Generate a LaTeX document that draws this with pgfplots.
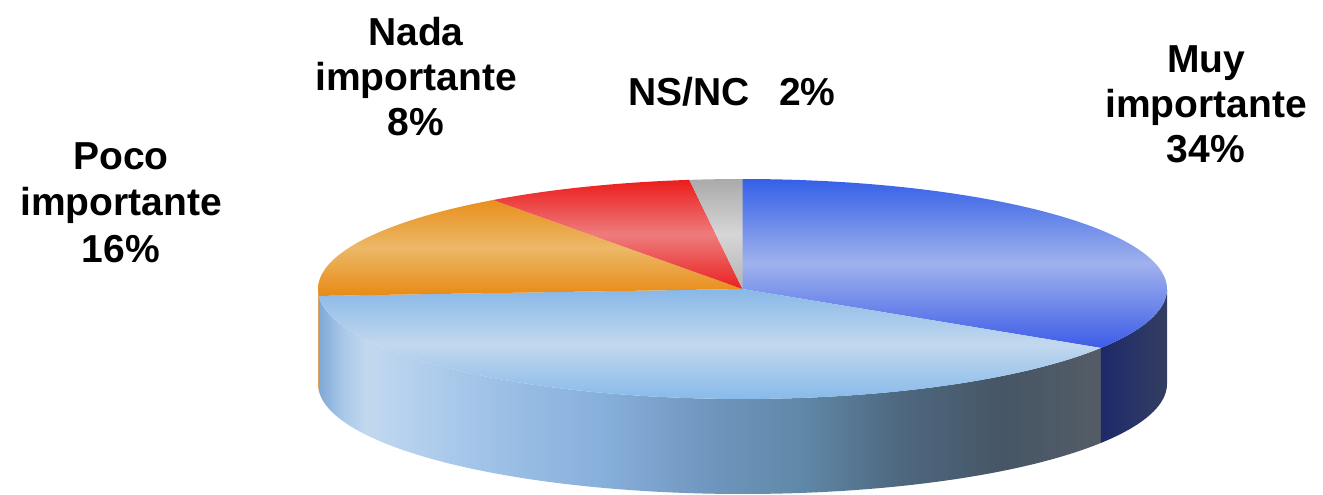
\documentclass[border=0pt]{standalone}
\usepackage{fontspec}
\setmainfont{Liberation Sans}
\usepackage{pgfplots}
\usepackage{pgfplotstable}
\pgfplotsset{compat=1.18}

\definecolor{sA}{HTML}{7EA8D6}
\definecolor{sB}{HTML}{A6C6E8}
\definecolor{sC}{HTML}{C2D8EE}
\definecolor{sD}{HTML}{B8D2EE}
\definecolor{sE}{HTML}{9CC0E6}
\definecolor{sF}{HTML}{88B0DC}
\definecolor{sG}{HTML}{7098C0}
\definecolor{sH}{HTML}{6088A8}
\definecolor{sI}{HTML}{4E6880}
\definecolor{sJ}{HTML}{465666}
\definecolor{sK}{HTML}{545C66}
\pgfdeclarehorizontalshading{sideshade}{100bp}{color(0bp)=(sA); color(25bp)=(sA); color(26.4bp)=(sB); color(28bp)=(sC); color(30.2bp)=(sD); color(36.6bp)=(sE); color(43bp)=(sF); color(49.4bp)=(sG); color(55.8bp)=(sH); color(62.1bp)=(sI); color(68.6bp)=(sJ); color(75bp)=(sK); color(100bp)=(sK)}

\definecolor{bT}{HTML}{3460E8}
\definecolor{bM}{HTML}{A0B2EC}
\definecolor{bB}{HTML}{3C5CE8}
\definecolor{lT}{HTML}{88B8E8}
\definecolor{lM}{HTML}{C2D8EE}
\definecolor{lB}{HTML}{88BAEA}
\definecolor{oT}{HTML}{E8901C}
\definecolor{oM}{HTML}{ECB868}
\definecolor{oB}{HTML}{E88A14}
\definecolor{rT}{HTML}{EC1C1C}
\definecolor{rM}{HTML}{EE7C7C}
\definecolor{rB}{HTML}{EA2020}
\definecolor{gT}{HTML}{AAAAAA}
\definecolor{gM}{HTML}{D6D6D6}
\definecolor{gB}{HTML}{B4B4B4}
\definecolor{nL}{HTML}{1C2A6A}
\definecolor{nR}{HTML}{343E62}
\definecolor{oS}{HTML}{D8A060}

\pgfplotstableread{
label value
Muy 34
Bastante 40
Poco 16
Nada 8
NSNC 2
}\piedata

\begin{document}
\pgfplotstablegetelem{0}{value}\of\piedata\pgfmathsetmacro\vA{\pgfplotsretval}%
\pgfplotstablegetelem{1}{value}\of\piedata\pgfmathsetmacro\vB{\pgfplotsretval}%
\pgfplotstablegetelem{2}{value}\of\piedata\pgfmathsetmacro\vC{\pgfplotsretval}%
\pgfplotstablegetelem{3}{value}\of\piedata\pgfmathsetmacro\vD{\pgfplotsretval}%
\pgfplotstablegetelem{4}{value}\of\piedata\pgfmathsetmacro\vE{\pgfplotsretval}%
\pgfmathsetmacro\aA{90}%
\pgfmathsetmacro\aB{\aA-3.6*\vA}%
\pgfmathsetmacro\aC{\aB-3.6*\vB}%
\pgfmathsetmacro\aD{\aC-3.6*\vC}%
\pgfmathsetmacro\aE{\aD-3.6*\vD}%
\pgfmathsetmacro\aF{\aE-3.6*\vE}%
\def\cx{742.5}\def\cy{205}\def\rx{424.5}\def\ry{110}\def\dep{95}%
\begin{tikzpicture}[lbl/.style={anchor=base, inner sep=0pt, font=\bfseries\fontsize{19.5}{23}\selectfont}]
\begin{axis}[scale only axis, width=661.5pt, height=247pt,
  xmin=0, xmax=1323, ymin=0, ymax=494, hide axis, clip=false]
\path (0,0) rectangle (1323,494);
% front side
\shade[shading=sideshade] plot[domain=\aB:\aC, samples=80, variable=\t] ({\cx+\rx*cos(\t)},{\cy+\ry*sin(\t)})
  -- plot[domain=\aC:\aB, samples=80, variable=\t] ({\cx+\rx*cos(\t)},{\cy-\dep+\ry*sin(\t)}) -- cycle;
\fill[oS] plot[domain=\aC:-180, samples=5, variable=\t] ({\cx+\rx*cos(\t)},{\cy+\ry*sin(\t)})
  -- plot[domain=-180:\aC, samples=5, variable=\t] ({\cx+\rx*cos(\t)},{\cy-\dep+\ry*sin(\t)}) -- cycle;
\shade[left color=nL, right color=nR] plot[domain=0:\aB, samples=30, variable=\t] ({\cx+\rx*cos(\t)},{\cy+\ry*sin(\t)})
  -- plot[domain=\aB:0, samples=30, variable=\t] ({\cx+\rx*cos(\t)},{\cy-\dep+\ry*sin(\t)}) -- cycle;
% top slices
\shade[top color=bT, bottom color=bB, middle color=bM] (\cx,\cy) -- plot[domain=\aA:\aB, samples=80, variable=\t] ({\cx+\rx*cos(\t)},{\cy+\ry*sin(\t)}) -- cycle;
\shade[top color=lT, bottom color=lB, middle color=lM] (\cx,\cy) -- plot[domain=\aB:\aC, samples=80, variable=\t] ({\cx+\rx*cos(\t)},{\cy+\ry*sin(\t)}) -- cycle;
\shade[top color=oT, bottom color=oB, middle color=oM] (\cx,\cy) -- plot[domain=\aC:\aD, samples=50, variable=\t] ({\cx+\rx*cos(\t)},{\cy+\ry*sin(\t)}) -- cycle;
\shade[top color=rT, bottom color=rB, middle color=rM] (\cx,\cy) -- plot[domain=\aD:\aE, samples=30, variable=\t] ({\cx+\rx*cos(\t)},{\cy+\ry*sin(\t)}) -- cycle;
\shade[top color=gT, bottom color=gB, middle color=gM] (\cx,\cy) -- plot[domain=\aE:\aF, samples=10, variable=\t] ({\cx+\rx*cos(\t)},{\cy+\ry*sin(\t)}) -- cycle;
% labels
\node[lbl] at (1206,422) {Muy};
\node[lbl] at (1206,377) {importante};
\node[lbl] at (1206,332) {34\%};
\node[lbl] at (121,325) {Poco};
\node[lbl] at (121,279) {importante};
\node[lbl] at (121,232) {16\%};
\node[lbl] at (416,449) {Nada};
\node[lbl] at (416,404) {importante};
\node[lbl] at (416,358) {8\%};
\node[lbl] at (732,389) {NS/NC\hspace{0.75em}2\%};
\end{axis}
\end{tikzpicture}
\end{document}
